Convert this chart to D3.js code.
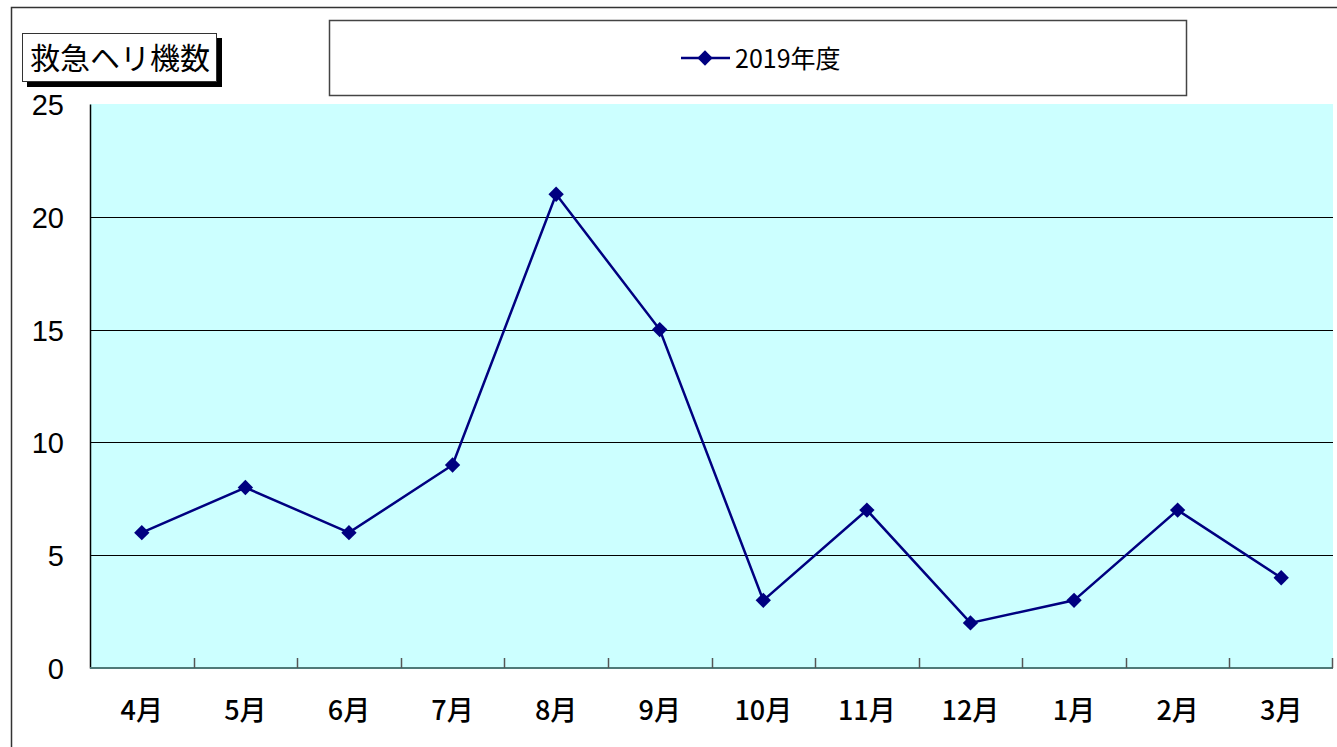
<!DOCTYPE html>
<html>
<head>
<meta charset="utf-8">
<script src="https://cdn.jsdelivr.net/npm/d3@7"></script>
<style>
  body { margin: 0; background: #fff; }
  svg { display: block; font-family: "Noto Sans CJK JP", "Noto Sans", sans-serif; }
</style>
</head>
<body>
<div id="chart"></div>
<script>
const months = ["4月", "5月", "6月", "7月", "8月", "9月", "10月", "11月", "12月", "1月", "2月", "3月"];
const heli2019 = [6, 8, 6, 9, 21, 15, 3, 7, 2, 3, 7, 4];
const yTicks = [0, 5, 10, 15, 20, 25];
const seriesName = "2019年度";
const chartTitle = "救急ヘリ機数";

const width = 1337, height = 747;
const plot = { left: 90, right: 1333, top: 104, bottom: 668 };

const svg = d3.select("#chart").append("svg")
  .attr("width", width)
  .attr("height", height);

// outer frame
svg.append("rect")
  .attr("x", 11.5).attr("y", 7.5)
  .attr("width", 1340).attr("height", 760)
  .attr("fill", "none").attr("stroke", "#333").attr("stroke-width", 1.5);

const x = d3.scaleBand().domain(months).range([plot.left, plot.right]);
const y = d3.scaleLinear().domain([0, 25]).range([plot.bottom, plot.top]);

// plot background
svg.append("rect")
  .attr("x", plot.left).attr("y", plot.top)
  .attr("width", plot.right - plot.left).attr("height", plot.bottom - plot.top)
  .attr("fill", "#ccffff");

// gridlines
svg.append("g")
  .selectAll("line")
  .data(yTicks.filter(d => d > 0 && d < 25))
  .join("line")
  .attr("x1", plot.left).attr("x2", plot.right)
  .attr("y1", d => Math.round(y(d)) + 0.5).attr("y2", d => Math.round(y(d)) + 0.5)
  .attr("stroke", "#000").attr("stroke-width", 1);

// y axis
const yAxis = svg.append("g")
  .attr("transform", `translate(${plot.left},0)`)
  .call(d3.axisLeft(y).tickValues(yTicks).tickSize(0).tickPadding(26));
yAxis.select(".domain").attr("stroke", "#000").attr("stroke-width", 1.5);
yAxis.selectAll("text")
  .attr("font-size", 29).attr("fill", "#000").attr("dy", "0.36em")
  .attr("font-family", "'Liberation Sans', sans-serif");

// x axis: ticks at category boundaries pointing into the plot
const xAxisG = svg.append("g");
xAxisG.append("line")
  .attr("x1", plot.left).attr("x2", plot.right)
  .attr("y1", plot.bottom).attr("y2", plot.bottom)
  .attr("stroke", "#4f7a78").attr("stroke-width", 2);
const boundaries = months.slice(1).map(m => x(m)).concat([plot.right - 1]);
xAxisG.selectAll("line.tick")
  .data(boundaries)
  .join("line")
  .attr("class", "tick")
  .attr("x1", d => Math.round(d) + 0.5).attr("x2", d => Math.round(d) + 0.5)
  .attr("y1", plot.bottom).attr("y2", plot.bottom - 10)
  .attr("stroke", "#555").attr("stroke-width", 1.5);
xAxisG.selectAll("text")
  .data(months)
  .join("text")
  .attr("x", d => x(d) + x.bandwidth() / 2)
  .attr("y", 720)
  .attr("text-anchor", "middle")
  .attr("font-size", 27)
  .attr("font-weight", 500)
  .attr("fill", "#000")
  .text(d => d);

// line series
const line = d3.line()
  .x((d, i) => x(months[i]) + x.bandwidth() / 2)
  .y(d => y(d));
svg.append("path")
  .datum(heli2019)
  .attr("d", line)
  .attr("fill", "none")
  .attr("stroke", "#000080")
  .attr("stroke-width", 2.5);

const diamond = d3.symbol().type(d3.symbolDiamond2).size(150);
svg.append("g")
  .selectAll("path")
  .data(heli2019)
  .join("path")
  .attr("d", diamond)
  .attr("transform", (d, i) => `translate(${x(months[i]) + x.bandwidth() / 2},${y(d)})`)
  .attr("fill", "#000080");

// legend
const legend = svg.append("g");
legend.append("rect")
  .attr("x", 329.5).attr("y", 20.5).attr("width", 857).attr("height", 75)
  .attr("fill", "#fff").attr("stroke", "#444").attr("stroke-width", 1.5);
legend.append("line")
  .attr("x1", 681).attr("x2", 730).attr("y1", 58).attr("y2", 58)
  .attr("stroke", "#000080").attr("stroke-width", 2.5);
legend.append("path")
  .attr("d", diamond)
  .attr("transform", "translate(705,58)")
  .attr("fill", "#000080");
legend.append("text")
  .attr("x", 735).attr("y", 68)
  .attr("font-size", 25).attr("fill", "#000")
  .text(seriesName);

// title box with shadow
const title = svg.append("g");
title.append("rect")
  .attr("x", 27).attr("y", 38).attr("width", 195).attr("height", 49)
  .attr("fill", "#000");
title.append("rect")
  .attr("x", 22.5).attr("y", 33.5).attr("width", 194).attr("height", 48)
  .attr("fill", "#fff").attr("stroke", "#333").attr("stroke-width", 1);
title.append("text")
  .attr("x", 120).attr("y", 69)
  .attr("text-anchor", "middle")
  .attr("font-size", 30).attr("fill", "#000")
  .text(chartTitle);
</script>
</body>
</html>
